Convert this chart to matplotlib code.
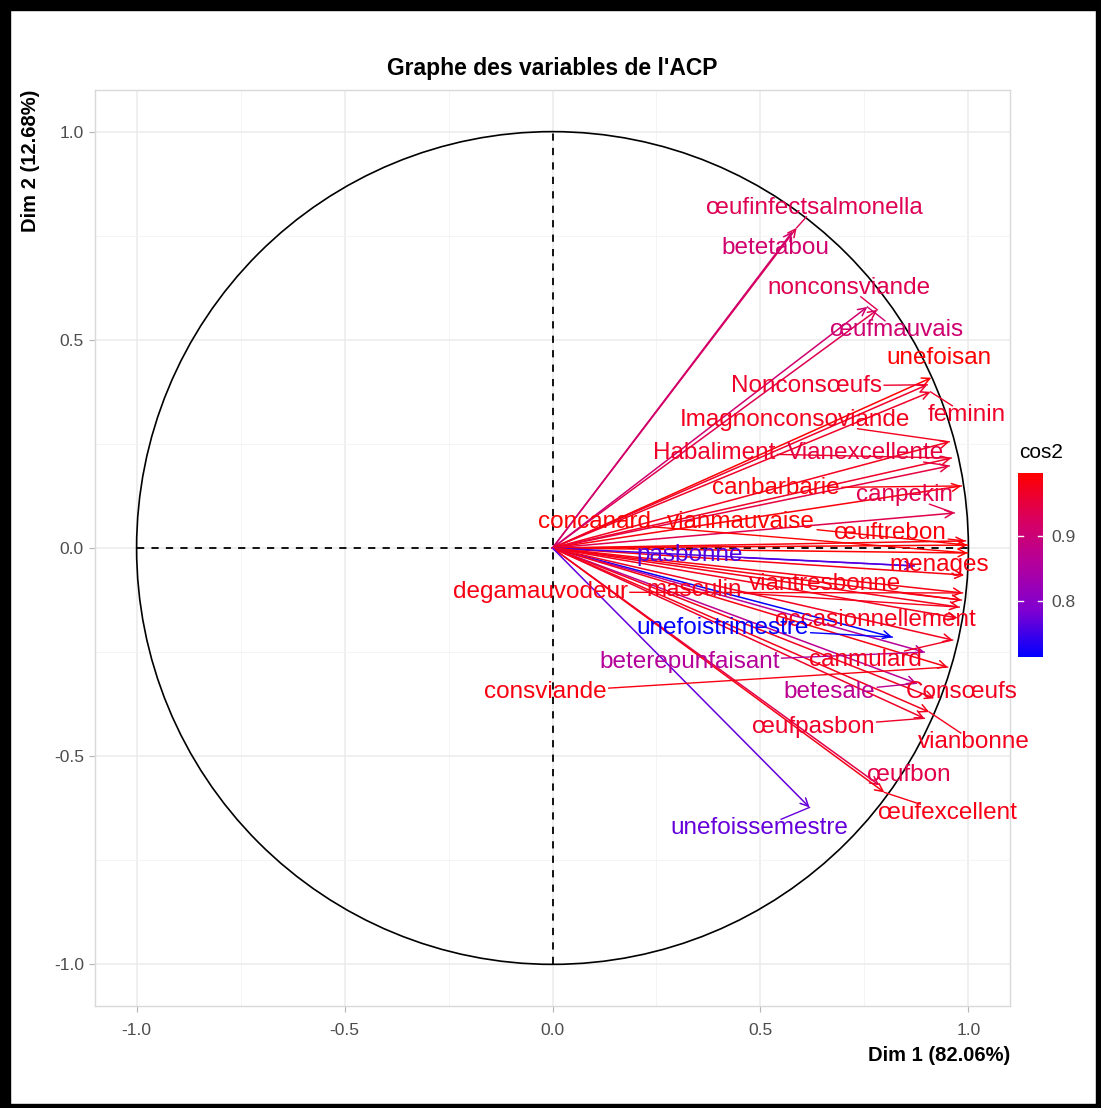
import matplotlib
matplotlib.use("Agg")
import matplotlib.pyplot as plt
import numpy as np
from matplotlib.colors import LinearSegmentedColormap, Normalize
from matplotlib.patches import Circle, Rectangle

plt.rcParams["font.family"] = ["Liberation Sans", "DejaVu Sans"]

# coordonnees des variables sur Dim 1 / Dim 2
variables = [
    "œufinfectsalmonella", "betetabou", "nonconsviande", "œufmauvais",
    "unefoisan", "Nonconsœufs", "feminin", "Imagnonconsoviande",
    "Habaliment", "Vianexcellente", "canbarbarie", "canpekin",
    "concanard", "vianmauvaise", "œuftrebon", "menages", "pasbonne",
    "degamauvodeur", "masculin", "viantresbonne", "occasionnellement",
    "unefoistrimestre", "beterepunfaisant", "canmulard", "consviande",
    "betesale", "Consœufs", "œufpasbon", "vianbonne", "œufbon",
    "œufexcellent", "unefoissemestre",
]
dim1 = [0.587, 0.577, 0.781, 0.757, 0.911, 0.901, 0.909, 0.954,
        0.959, 0.954, 0.983, 0.966, 0.998, 0.998, 0.993, 0.990, 0.870,
        0.986, 0.978, 0.983, 0.974, 0.817, 0.894, 0.962, 0.950,
        0.875, 0.918, 0.894, 0.906, 0.786, 0.798, 0.618]
dim2 = [0.769, 0.760, 0.572, 0.579, 0.409, 0.392, 0.375, 0.255,
        0.216, 0.197, 0.149, 0.084, -0.012, 0.007, 0.017, -0.065, -0.043,
        -0.108, -0.142, -0.125, -0.168, -0.214, -0.250, -0.221, -0.286,
        -0.325, -0.361, -0.409, -0.394, -0.570, -0.587, -0.623]

# position des etiquettes (repel)
label_x = [0.630, 0.536, 0.714, 0.827, 0.930, 0.611, 0.995, 0.582,
           0.389, 0.752, 0.538, 0.846, 0.101, 0.454, 0.8125, 0.930, 0.329,
           -0.029, 0.341, 0.656, 0.776, 0.409, 0.329, 0.752, -0.017,
           0.666, 0.983, 0.627, 1.014, 0.856, 0.950, 0.498]
label_y = [0.817, 0.721, 0.625, 0.524, 0.457, 0.389, 0.320, 0.308,
           0.228, 0.228, 0.144, 0.127, 0.0625, 0.0625, 0.036, -0.041, -0.017,
           -0.106, -0.101, -0.087, -0.173, -0.192, -0.274, -0.269, -0.346,
           -0.346, -0.346, -0.430, -0.466, -0.546, -0.637, -0.673]

dim1 = np.array(dim1)
dim2 = np.array(dim2)
cos2 = dim1 ** 2 + dim2 ** 2

cmap = LinearSegmentedColormap.from_list(
    "bluered", ["#0000FF", "#7E00D2", "#B2009E", "#D9005F", "#FF0000"])
norm = Normalize(vmin=cos2.min(), vmax=cos2.max())

W, H = 1101, 1108
fig = plt.figure(figsize=(W / 100, H / 100), dpi=100)
left, right, top, bottom = 95, 1010, 90, 1006
ax = fig.add_axes([left / W, 1 - bottom / H, (right - left) / W, (bottom - top) / H])

ax.set_xlim(-1.1, 1.1)
ax.set_ylim(-1.1, 1.1)
ticks = [-1.0, -0.5, 0.0, 0.5, 1.0]
ax.set_xticks(ticks)
ax.set_yticks(ticks)
ax.set_xticklabels(["-1.0", "-0.5", "0.0", "0.5", "1.0"])
ax.set_yticklabels(["-1.0", "-0.5", "0.0", "0.5", "1.0"])
ax.set_xticks([-0.75, -0.25, 0.25, 0.75], minor=True)
ax.set_yticks([-0.75, -0.25, 0.25, 0.75], minor=True)
ax.grid(which="major", color="#EBEBEB", lw=1.1)
ax.grid(which="minor", color="#F4F4F4", lw=0.7)
ax.set_axisbelow(True)
ax.tick_params(which="major", length=4, color="#B3B3B3", labelcolor="#4D4D4D",
               labelsize=12.5, pad=4)
ax.tick_params(axis="x", which="major", pad=8)
ax.tick_params(which="minor", length=0)
for sp in ax.spines.values():
    sp.set_color("#D9D9D9")
    sp.set_linewidth(1.0)

ax.set_xlabel("Dim 1 (82.06%)", loc="right", fontweight="bold", fontsize=14.5,
              labelpad=6)
ax.set_ylabel("Dim 2 (12.68%)", loc="top", fontweight="bold", fontsize=14.5,
              labelpad=10)

# cercle des correlations et axes pointilles
ax.add_patch(Circle((0, 0), 1, fill=False, color="black", lw=1.2))
ax.plot([-1, 1], [0, 0], ls=(0, (4, 4)), color="black", lw=1.3)
ax.plot([0, 0], [-1, 1], ls=(0, (4, 4)), color="black", lw=1.3)

colors = [cmap(norm(c)) for c in cos2]

for x, y, c in zip(dim1, dim2, colors):
    ax.annotate("", xy=(x, y), xytext=(0, 0),
                arrowprops=dict(arrowstyle="->", color=c, lw=1.1,
                                shrinkA=0, shrinkB=0, mutation_scale=14))

texts = []
for name, lx, ly, c in zip(variables, label_x, label_y, colors):
    t = ax.text(lx, ly, name, color=c, fontsize=17.5, ha="center", va="center",
                zorder=5)
    texts.append(t)

# segments entre etiquette et fleche
fig.canvas.draw()
renderer = fig.canvas.get_renderer()
inv = ax.transData.inverted()
for t, x, y, c in zip(texts, dim1, dim2, colors):
    bb = t.get_window_extent(renderer)
    px, py = ax.transData.transform((x, y))
    cx, cy = (bb.x0 + bb.x1) / 2, (bb.y0 + bb.y1) / 2
    if bb.x0 <= px <= bb.x1 and bb.y0 <= py <= bb.y1:
        continue
    dx, dy = px - cx, py - cy
    sx = (bb.width / 2 + 2) / abs(dx) if dx != 0 else np.inf
    sy = (bb.height / 2 - 2) / abs(dy) if dy != 0 else np.inf
    s = min(sx, sy)
    if s >= 1:
        continue
    ex, ey = cx + dx * s, cy + dy * s
    if np.hypot(px - ex, py - ey) < 12:
        continue
    (x0, y0) = inv.transform((ex, ey))
    ax.plot([x0, x], [y0, y], color=c, lw=1.0, zorder=4)

fig.text((left + right) / 2 / W, 1 - 68 / H, "Graphe des variables de l'ACP",
         ha="center", va="center", fontsize=16.5, fontweight="bold")

# legende cos2
cax = fig.add_axes([1018 / W, 1 - 657 / H, 25 / W, 184 / H])
sm = plt.cm.ScalarMappable(norm=norm, cmap=cmap)
cb = fig.colorbar(sm, cax=cax, ticks=[0.8, 0.9])
cb.outline.set_visible(False)
cax.tick_params(length=0, labelsize=12.5, labelcolor="#4D4D4D", pad=6)
cax.set_yticklabels(["0.8", "0.9"])
for v in [0.8, 0.9]:
    cax.axhline(v, xmin=0, xmax=0.2, color="white", lw=1)
    cax.axhline(v, xmin=0.8, xmax=1, color="white", lw=1)
fig.text(1019 / W, 1 - 452 / H, "cos2", fontsize=15, ha="left", va="center")

# cadre noir de l'image
for r in [(0, 0, W, 4), (0, H - 10, W, 10), (0, 0, 10, H), (W - 5, 0, 5, H)]:
    fig.patches.append(Rectangle((r[0] / W, r[1] / H), r[2] / W, r[3] / H,
                                 transform=fig.transFigure, color="black",
                                 zorder=10))

fig.savefig("out.png", dpi=100)
